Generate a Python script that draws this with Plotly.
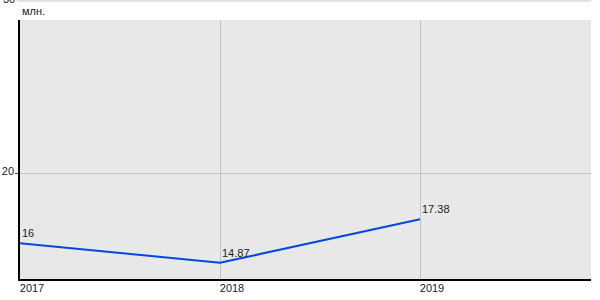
import plotly.graph_objects as go

years = [2017, 2018, 2019]
values = [16, 14.87, 17.38]
labels = ["16", "14.87", "17.38"]
y_ticks = [20, 30]
unit = "млн."

font = dict(family="Liberation Sans, Arial, sans-serif", size=11, color="#222222")

y_min, y_max = 13.93, 28.90

fig = go.Figure()
fig.add_trace(go.Scatter(
    x=years, y=values, mode="lines",
    line=dict(color="#0048e0", width=2),
    cliponaxis=False, showlegend=False,
))

for yr, v, lab in zip(years, values, labels):
    fig.add_annotation(x=yr, y=v, text=lab, xanchor="left", yanchor="bottom",
                       yshift=2, xshift=0, showarrow=False, font=font)

# gridline + label for ticks above the plot area
for t in y_ticks:
    if t > y_max:
        py = (t - y_min) / (y_max - y_min)
        fig.add_shape(type="line", xref="paper", yref="paper", x0=-3 / 571, x1=1, y0=py, y1=py,
                      line=dict(color="#c4c4c4", width=1))
        fig.add_annotation(text=str(t), xref="paper", yref="paper", x=0, y=py, xanchor="right",
                           yanchor="middle", xshift=-3, yshift=2, showarrow=False, font=font)

fig.add_annotation(text=unit, xref="paper", yref="paper", x=0, y=1, xanchor="left",
                   yanchor="bottom", yshift=1, showarrow=False, font=font)

fig.update_layout(
    width=600, height=300,
    margin=dict(l=20, r=9, t=20, b=21, autoexpand=False),
    paper_bgcolor="white", plot_bgcolor="#e8e8e8",
    font=font,
)
fig.update_xaxes(
    range=[2017, 2019.855], tickvals=years, ticktext=[str(y) for y in years],
    showgrid=True, gridcolor="#c4c4c4", gridwidth=1,
    showline=True, linecolor="#000000", linewidth=1.5,
    ticks="", zeroline=False, ticklabelshift=12, ticklabelstandoff=-2,
    automargin=False,
)
fig.update_yaxes(
    range=[y_min, y_max], tickvals=y_ticks,
    showgrid=True, gridcolor="#c4c4c4", gridwidth=1,
    showline=True, linecolor="#000000", linewidth=1.5,
    ticks="outside", ticklen=3, tickcolor="#444444",
    zeroline=False, ticklabelstandoff=-1, ticklabelshift=-3, automargin=False,
)

fig.write_html("out.html")
